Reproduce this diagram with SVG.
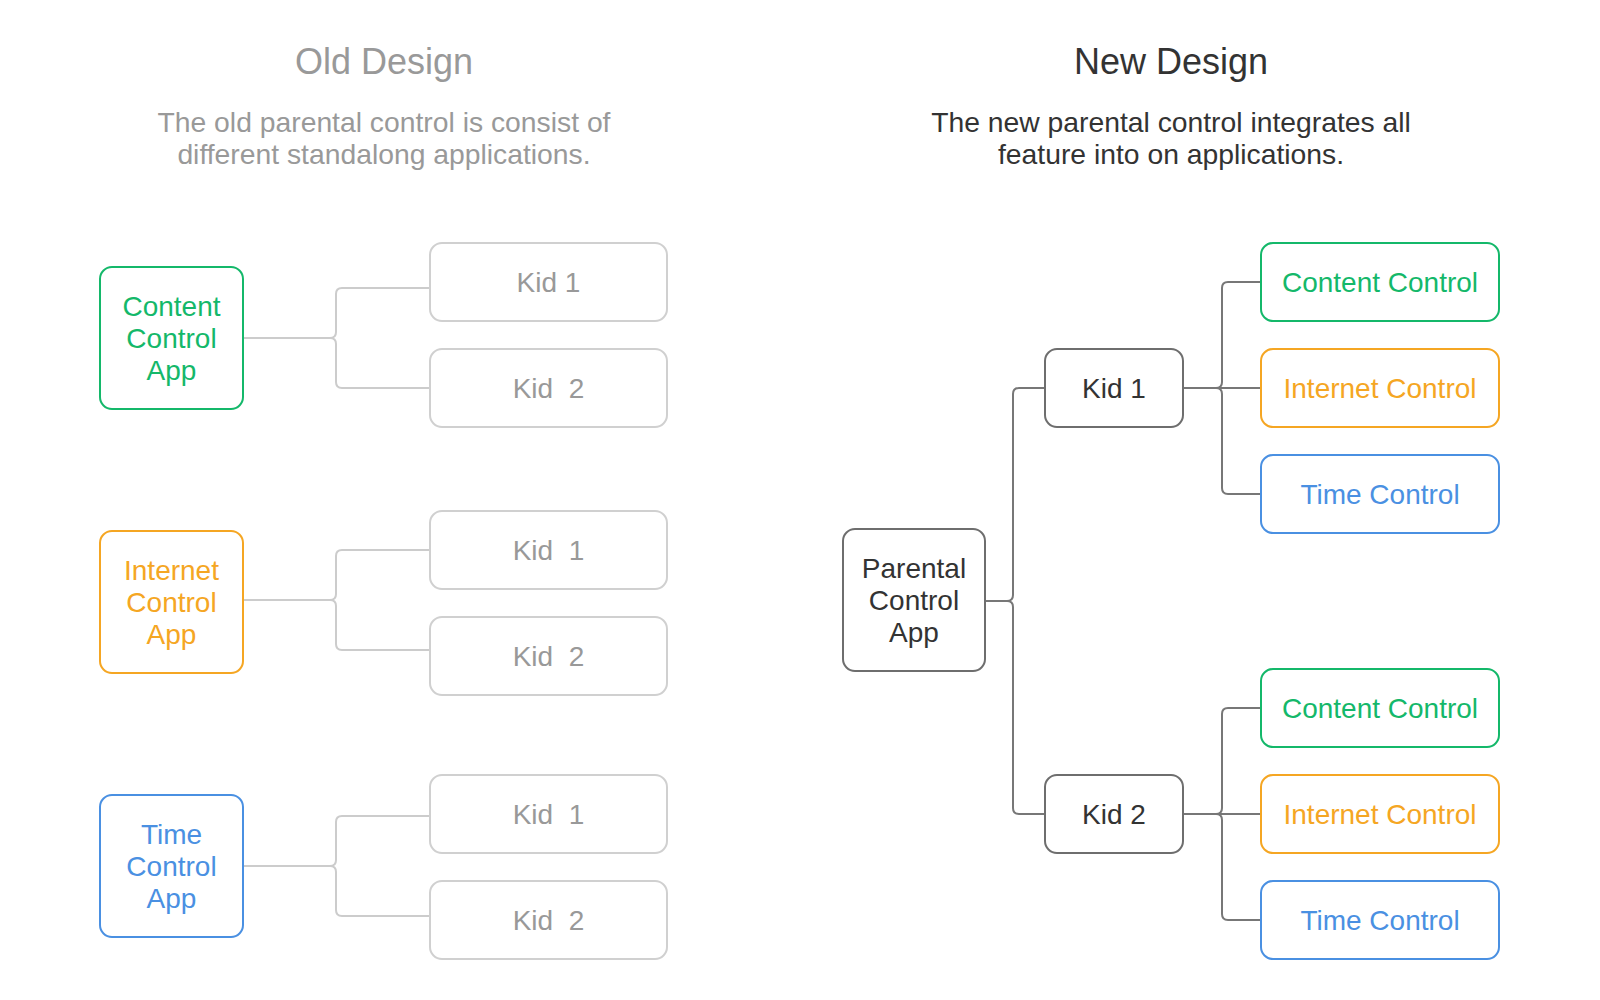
<svg xmlns="http://www.w3.org/2000/svg" width="1600" height="1000" viewBox="0 0 1600 1000">
<style>
text{font-family:"Liberation Sans",Arial,Helvetica,sans-serif;text-anchor:middle;}
.title{font-size:36px;}
.sub{font-size:28.3px;}
.lbl{font-size:28px;white-space:pre;}
.old{fill:#999999;}
.dark{fill:#333333;}
.box{fill:#ffffff;stroke-width:2;}
.oldbox{stroke:#d0d0d0;}
.darkbox{stroke:#6e6e6e;}
.g{stroke:#14b86a;} .gt{fill:#14b86a;}
.o{stroke:#f5a623;} .ot{fill:#f5a623;}
.b{stroke:#4a90e2;} .bt{fill:#4a90e2;}
.oldc path{fill:none;stroke:#cccccc;stroke-width:2;}
.newc path{fill:none;stroke:#777777;stroke-width:2;}
</style>
<rect width="1600" height="1000" fill="#ffffff"/>

<g id="old-heading">
<text class="title old" x="384" y="74">Old Design</text>
<text class="sub old" x="384" y="132">The old parental control is consist of</text>
<text class="sub old" x="384" y="164">different standalong applications.</text>
</g>
<g id="new-heading">
<text class="title dark" x="1171" y="74">New Design</text>
<text class="sub dark" x="1171" y="132">The new parental control integrates all</text>
<text class="sub dark" x="1171" y="164">feature into on applications.</text>
</g>

<g id="connectors-old" class="oldc">
<path d="M243,338 H330 Q336,338 336,332 V294 Q336,288 342,288 H430"/>
<path d="M330,338 Q336,338 336,344 V382 Q336,388 342,388 H430"/>
<path d="M243,600 H330 Q336,600 336,594 V556 Q336,550 342,550 H430"/>
<path d="M330,600 Q336,600 336,606 V644 Q336,650 342,650 H430"/>
<path d="M243,866 H330 Q336,866 336,860 V822 Q336,816 342,816 H430"/>
<path d="M330,866 Q336,866 336,872 V910 Q336,916 342,916 H430"/>
</g>
<g id="connectors-new" class="newc">
<path d="M985,601 H1007 Q1013,601 1013,595 V394 Q1013,388 1019,388 H1045"/>
<path d="M1007,601 Q1013,601 1013,607 V808 Q1013,814 1019,814 H1045"/>
<path d="M1183,388 H1261"/>
<path d="M1216,388 Q1222,388 1222,382 V288 Q1222,282 1228,282 H1261"/>
<path d="M1216,388 Q1222,388 1222,394 V488 Q1222,494 1228,494 H1261"/>
<path d="M1183,814 H1261"/>
<path d="M1216,814 Q1222,814 1222,808 V714 Q1222,708 1228,708 H1261"/>
<path d="M1216,814 Q1222,814 1222,820 V914 Q1222,920 1228,920 H1261"/>
</g>

<g id="content-control-app">
<rect class="box g" x="100" y="267" width="143" height="142" rx="12"/>
<text class="lbl gt" x="171.5" y="316">Content</text>
<text class="lbl gt" x="171.5" y="348">Control</text>
<text class="lbl gt" x="171.5" y="380">App</text>
</g>
<g id="old-cc-kid1">
<rect class="box oldbox" x="430" y="243" width="237" height="78" rx="12"/>
<text class="lbl old" x="548.5" y="292">Kid 1</text>
</g>
<g id="old-cc-kid2">
<rect class="box oldbox" x="430" y="349" width="237" height="78" rx="12"/>
<text class="lbl old" x="548.5" y="398" xml:space="preserve">Kid  2</text>
</g>

<g id="internet-control-app">
<rect class="box o" x="100" y="531" width="143" height="142" rx="12"/>
<text class="lbl ot" x="171.5" y="580">Internet</text>
<text class="lbl ot" x="171.5" y="612">Control</text>
<text class="lbl ot" x="171.5" y="644">App</text>
</g>
<g id="old-ic-kid1">
<rect class="box oldbox" x="430" y="511" width="237" height="78" rx="12"/>
<text class="lbl old" x="548.5" y="560" xml:space="preserve">Kid  1</text>
</g>
<g id="old-ic-kid2">
<rect class="box oldbox" x="430" y="617" width="237" height="78" rx="12"/>
<text class="lbl old" x="548.5" y="666" xml:space="preserve">Kid  2</text>
</g>

<g id="time-control-app">
<rect class="box b" x="100" y="795" width="143" height="142" rx="12"/>
<text class="lbl bt" x="171.5" y="844">Time</text>
<text class="lbl bt" x="171.5" y="876">Control</text>
<text class="lbl bt" x="171.5" y="908">App</text>
</g>
<g id="old-tc-kid1">
<rect class="box oldbox" x="430" y="775" width="237" height="78" rx="12"/>
<text class="lbl old" x="548.5" y="824" xml:space="preserve">Kid  1</text>
</g>
<g id="old-tc-kid2">
<rect class="box oldbox" x="430" y="881" width="237" height="78" rx="12"/>
<text class="lbl old" x="548.5" y="930" xml:space="preserve">Kid  2</text>
</g>

<g id="parental-control-app">
<rect class="box darkbox" x="843" y="529" width="142" height="142" rx="12"/>
<text class="lbl dark" x="914" y="578">Parental</text>
<text class="lbl dark" x="914" y="610">Control</text>
<text class="lbl dark" x="914" y="642">App</text>
</g>
<g id="new-kid1">
<rect class="box darkbox" x="1045" y="349" width="138" height="78" rx="12"/>
<text class="lbl dark" x="1114" y="398">Kid 1</text>
</g>
<g id="new-kid2">
<rect class="box darkbox" x="1045" y="775" width="138" height="78" rx="12"/>
<text class="lbl dark" x="1114" y="824">Kid 2</text>
</g>

<g id="kid1-content">
<rect class="box g" x="1261" y="243" width="238" height="78" rx="12"/>
<text class="lbl gt" x="1380" y="292">Content Control</text>
</g>
<g id="kid1-internet">
<rect class="box o" x="1261" y="349" width="238" height="78" rx="12"/>
<text class="lbl ot" x="1380" y="398">Internet Control</text>
</g>
<g id="kid1-time">
<rect class="box b" x="1261" y="455" width="238" height="78" rx="12"/>
<text class="lbl bt" x="1380" y="504">Time Control</text>
</g>
<g id="kid2-content">
<rect class="box g" x="1261" y="669" width="238" height="78" rx="12"/>
<text class="lbl gt" x="1380" y="718">Content Control</text>
</g>
<g id="kid2-internet">
<rect class="box o" x="1261" y="775" width="238" height="78" rx="12"/>
<text class="lbl ot" x="1380" y="824">Internet Control</text>
</g>
<g id="kid2-time">
<rect class="box b" x="1261" y="881" width="238" height="78" rx="12"/>
<text class="lbl bt" x="1380" y="930">Time Control</text>
</g>
</svg>
